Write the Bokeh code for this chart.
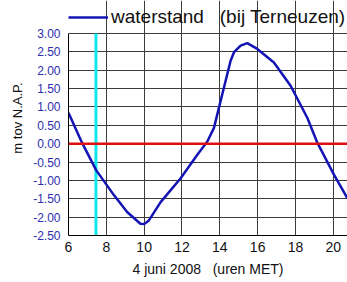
from bokeh.plotting import figure
from bokeh.models import Range1d, FixedTicker, NumeralTickFormatter, Legend, LegendItem, Span
from bokeh.embed import file_html
from bokeh.resources import INLINE

hours = [6.0, 6.72, 7.46, 8.4, 9.1, 9.8, 10.0, 10.25, 10.87, 11.93, 12.81, 13.34, 13.69,
         14.04, 14.57, 14.75, 15.1, 15.45, 15.98, 16.86, 17.75, 18.63, 19.16, 20.04, 20.75]
level = [0.84, 0.02, -0.72, -1.40, -1.86, -2.18, -2.19, -2.09, -1.59, -0.94, -0.30, 0.06, 0.43,
         1.16, 2.26, 2.49, 2.67, 2.74, 2.58, 2.21, 1.57, 0.70, 0.02, -0.85, -1.49]
marker_hour = 7.45
x_ticks = [6, 8, 10, 12, 14, 16, 18, 20]
y_ticks = [-2.5, -2.0, -1.5, -1.0, -0.5, 0.0, 0.5, 1.0, 1.5, 2.0, 2.5, 3.0]
y_lo, y_hi = -2.5, 3.0
W, H = 347, 282
frame_left, frame_top_gap, frame_bottom_gap = 68, 33, 47
frame_h = H - frame_bottom_gap
# extend the range upward so the legend (drawn in the frame) sits above the 3.00 line
y_top = y_hi + (y_hi - y_lo) * frame_top_gap / (frame_h - frame_top_gap)

p = figure(width=W, height=H, output_backend="svg", toolbar_location=None,
           x_range=Range1d(6, 20.75), y_range=Range1d(y_lo, y_top),
           min_border_left=frame_left, min_border_right=0, min_border_top=0,
           min_border_bottom=frame_bottom_gap)
p.outline_line_color = None
p.background_fill_color = "white"
p.border_fill_color = "white"

for g in (p.xgrid, p.ygrid):
    g.grid_line_color = "#3c3c3c"
    g.grid_line_width = 1
p.xgrid.ticker = FixedTicker(ticks=x_ticks)
p.ygrid.ticker = FixedTicker(ticks=y_ticks)
p.xgrid.bounds = (y_lo, y_hi)

p.xaxis.ticker = FixedTicker(ticks=x_ticks)
p.yaxis.ticker = FixedTicker(ticks=y_ticks)
p.yaxis.bounds = (y_lo, y_hi)
p.yaxis.formatter = NumeralTickFormatter(format="0.00")
for ax in (p.xaxis, p.yaxis):
    ax.axis_line_color = "black"
    ax.major_tick_out = 0
    ax.major_tick_in = 0
    ax.minor_tick_out = 0
    ax.minor_tick_in = 0
    ax.major_label_text_font = "Liberation Sans"
    ax.axis_label_text_font = "Liberation Sans"
    ax.axis_label_text_font_style = "normal"
    ax.axis_label_text_color = "#111111"
p.yaxis.major_label_text_color = "#2e2eb0"
p.yaxis.major_label_text_font_size = "12px"
p.yaxis.major_label_standoff = 8
p.yaxis.axis_label = "m tov N.A.P."
p.yaxis.axis_label_text_font_size = "13px"
p.yaxis.axis_label_standoff = 5
p.xaxis.major_label_text_color = "#111111"
p.xaxis.major_label_text_font_size = "14px"
p.xaxis.major_label_standoff = 6
p.xaxis.axis_label = "4 juni 2008 \u00a0 (uren MET)"
p.xaxis.axis_label_text_font_size = "14px"
p.xaxis.axis_label_standoff = 6

p.add_layout(Span(location=0, dimension="width", line_color="#e01010", line_width=2.5))
p.segment(x0=[marker_hour], y0=[y_lo], x1=[marker_hour], y1=[y_hi],
          line_color="#10e8f0", line_width=3)

r = p.line(hours, level, line_color="#1414b4", line_width=2.5)

legend = Legend(items=[LegendItem(label="waterstand \u00a0 (bij Terneuzen)", renderers=[r])],
                location=(0, frame_h - 28), orientation="horizontal", padding=0, margin=0,
                border_line_color=None, background_fill_alpha=0,
                glyph_width=40, label_standoff=3,
                label_text_font="Liberation Sans", label_text_font_size="19px",
                label_text_color="#111111")
p.add_layout(legend, "center")

open("out.html", "w").write(file_html(p, INLINE))
